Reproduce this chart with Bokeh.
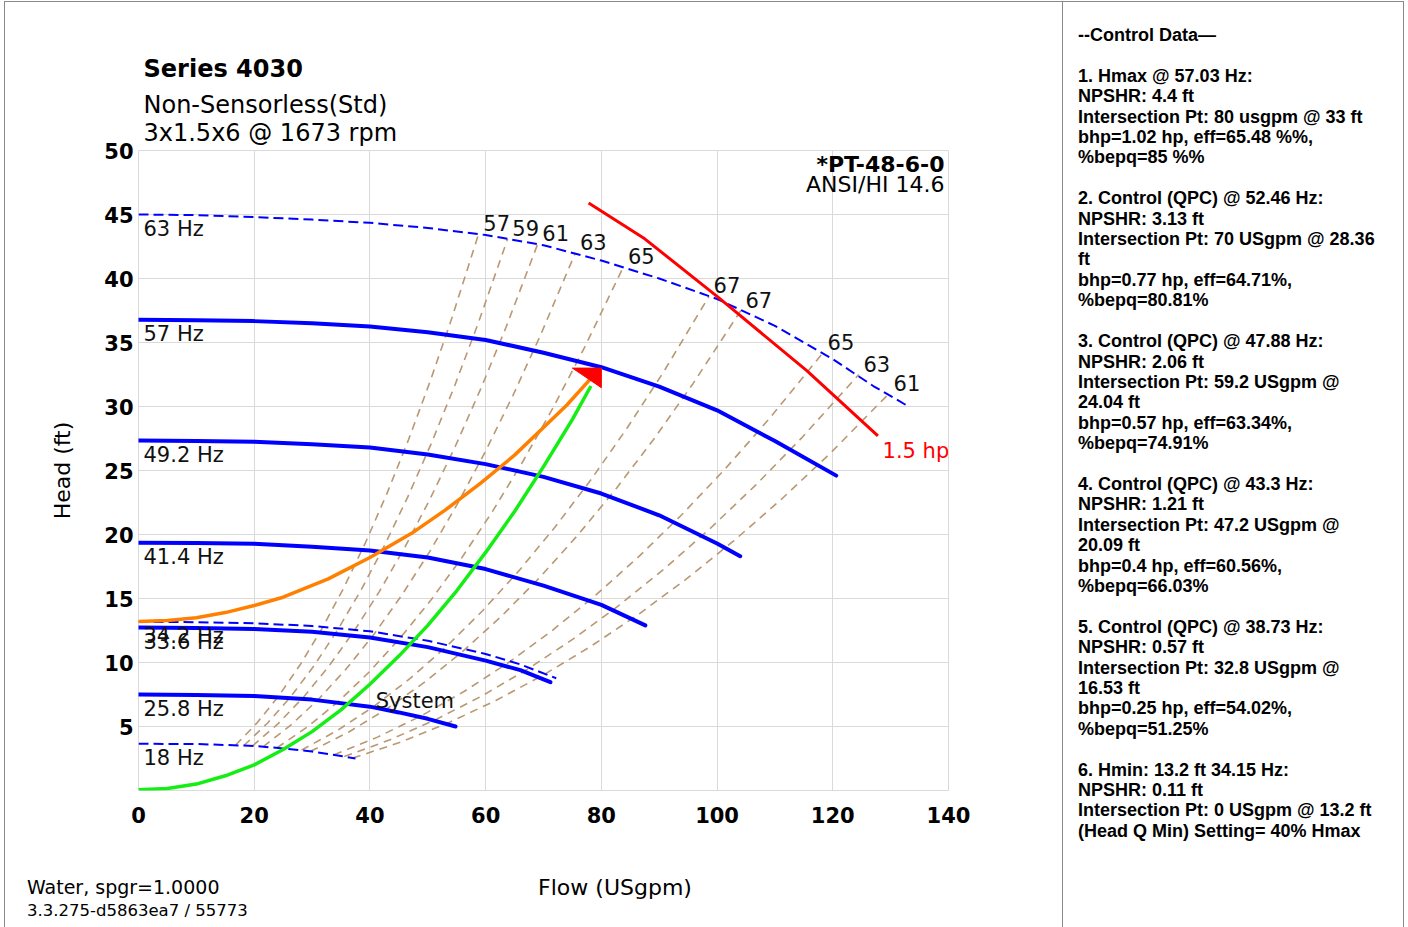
from bokeh.plotting import figure
from bokeh.models import Range1d, FixedTicker, Label, ColumnDataSource, Title, Div, Spacer
from bokeh.layouts import row, column
from bokeh.embed import file_html
from bokeh.resources import INLINE
from bokeh.core.properties import value

# ---------------- data ----------------
hz63_q = [0, 10, 20, 30, 40, 50, 60, 70, 80, 90, 100, 110, 120, 127, 133.1]
hz63_h = [45.0, 44.95, 44.8, 44.6, 44.35, 43.95, 43.4, 42.6, 41.4, 40.0, 38.4, 36.3, 33.7, 31.6, 30.0]

hz57_q = [0, 10, 20, 30, 40, 50, 60, 70, 80, 90, 100, 110, 120.6]
hz57_h = [36.77, 36.74, 36.67, 36.5, 36.25, 35.8, 35.2, 34.2, 33.07, 31.55, 29.7, 27.3, 24.6]

hz49_q = [0, 10, 20, 30, 40, 50, 60, 70, 80, 90, 100, 104]
hz49_h = [27.34, 27.31, 27.24, 27.05, 26.8, 26.25, 25.5, 24.5, 23.2, 21.5, 19.3, 18.3]

hz41_q = [0, 10, 20, 30, 40, 50, 60, 70, 80, 87.6]
hz41_h = [19.35, 19.33, 19.27, 19.05, 18.75, 18.2, 17.3, 16.0, 14.5, 12.9]

hz342_q = [0, 10, 20, 30, 40, 50, 60, 66, 72.2]
hz342_h = [13.18, 13.15, 13.07, 12.85, 12.44, 11.7, 10.67, 9.85, 8.77]

hz336_q = [0, 10, 20, 30, 40, 50, 60, 66, 71.2]
hz336_h = [12.73, 12.7, 12.62, 12.4, 11.95, 11.2, 10.15, 9.4, 8.46]

hz258_q = [0, 10, 20, 30, 40, 45, 50, 54.8]
hz258_h = [7.5, 7.47, 7.38, 7.1, 6.55, 6.1, 5.6, 5.0]

hz18_q = [0, 10, 20, 25, 30, 35, 37.5]
hz18_h = [3.65, 3.63, 3.48, 3.29, 3.04, 2.69, 2.5]

solid_curves = [(hz57_q, hz57_h), (hz49_q, hz49_h), (hz41_q, hz41_h),
                (hz336_q, hz336_h), (hz258_q, hz258_h)]
dashed_curves = [(hz63_q, hz63_h), (hz342_q, hz342_h), (hz18_q, hz18_h)]

speed_labels = ["63 Hz", "57 Hz", "49.2 Hz", "41.4 Hz", "34.2 Hz", "33.6 Hz", "25.8 Hz", "18 Hz"]
speed_shutoff = [45.0, 36.77, 27.34, 19.35, 13.18, 12.73, 7.5, 3.65]

# iso-efficiency points on the 63 Hz curve
eff_labels = ["57", "59", "61", "63", "65", "67", "67", "65", "63", "61"]
eff_q63 = [58.8, 63.8, 69.0, 75.5, 83.8, 98.6, 104.1, 118.3, 124.5, 129.7]
eff_h63 = [43.5, 43.1, 42.7, 42.0, 40.9, 38.6, 37.5, 34.2, 32.5, 31.0]
eff_speeds = [18, 22, 26, 30, 34, 38, 42, 46, 50, 54, 58, 63]   # Hz, affinity law
max_speed = 63

hp_q = [77.8, 87.5, 100.0, 115.5, 127.8]
hp_h = [45.9, 43.1, 38.6, 32.8, 27.7]

control_q = [0, 5, 10, 15, 20, 25, 32.8, 40, 47.2, 53, 59.2, 65, 70, 74, 78.0]
control_h = [13.2, 13.28, 13.5, 13.9, 14.45, 15.1, 16.53, 18.2, 20.09, 21.9, 24.04, 26.2, 28.36, 30.1, 32.1]

system_q = [0, 5, 10, 15, 20, 25, 30, 35, 40, 45, 50, 55, 60, 65, 70, 75, 78.2]
system_h = [0.05, 0.15, 0.5, 1.15, 2.0, 3.2, 4.6, 6.3, 8.3, 10.5, 12.9, 15.6, 18.6, 21.8, 25.3, 29.0, 31.6]

duty_point = (80, 33)

x_ticks = [0, 20, 40, 60, 80, 100, 120, 140]
y_ticks = [5, 10, 15, 20, 25, 30, 35, 40, 45, 50]

panel_lines = [
    "--Control Data\u2014", "",
    "1. Hmax @ 57.03 Hz:", "NPSHR: 4.4 ft", "Intersection Pt: 80 usgpm @ 33 ft",
    "bhp=1.02 hp, eff=65.48 %%,", "%bepq=85 %%", "",
    "2. Control (QPC) @ 52.46 Hz:", "NPSHR: 3.13 ft", "Intersection Pt: 70 USgpm @ 28.36", "ft",
    "bhp=0.77 hp, eff=64.71%,", "%bepq=80.81%", "",
    "3. Control (QPC) @ 47.88 Hz:", "NPSHR: 2.06 ft", "Intersection Pt: 59.2 USgpm @", "24.04 ft",
    "bhp=0.57 hp, eff=63.34%,", "%bepq=74.91%", "",
    "4. Control (QPC) @ 43.3 Hz:", "NPSHR: 1.21 ft", "Intersection Pt: 47.2 USgpm @", "20.09 ft",
    "bhp=0.4 hp, eff=60.56%,", "%bepq=66.03%", "",
    "5. Control (QPC) @ 38.73 Hz:", "NPSHR: 0.57 ft", "Intersection Pt: 32.8 USgpm @", "16.53 ft",
    "bhp=0.25 hp, eff=54.02%,", "%bepq=51.25%", "",
    "6. Hmin: 13.2 ft 34.15 Hz:", "NPSHR: 0.11 ft", "Intersection Pt: 0 USgpm @ 13.2 ft",
    "(Head Q Min) Setting= 40% Hmax",
]

title_lines = ["Series 4030", "Non-Sensorless(Std)", "3x1.5x6 @ 1673 rpm"]
curve_id = ["*PT-48-6-0", "ANSI/HI 14.6"]
footer_left = ["Water, spgr=1.0000", "3.3.275-d5863ea7 / 55773"]
x_title = "Flow (USgpm)"
y_title = "Head (ft)"

# ---------------- styles ----------------
FONT = "DejaVu Sans"
PANEL_FONT = "Liberation Sans"
BLUE = "#0000FF"
TAN = "#b99873"
GRID = "#dadada"
BORDER = "#8a8a8a"

FRAME_W, FRAME_H = 810, 640
LEFT_W = 1057
PLOT_H = 838
FOOT_H = 87
RIGHT_W = 341
TOTAL_H = PLOT_H + FOOT_H

p = figure(width=LEFT_W, height=PLOT_H, output_backend="svg", toolbar_location=None,
           x_range=Range1d(0, 140), y_range=Range1d(0, 50),
           min_border_left=133, min_border_right=LEFT_W - 133 - FRAME_W,
           min_border_top=148, min_border_bottom=PLOT_H - 148 - FRAME_H)
p.outline_line_color = GRID

for ax, ticks in ((p.xaxis[0], x_ticks), (p.yaxis[0], y_ticks)):
    ax.ticker = FixedTicker(ticks=ticks)
    ax.axis_line_color = None
    ax.major_tick_line_color = None
    ax.minor_tick_line_color = None
    ax.major_tick_out = 0
    ax.major_tick_in = 0
    ax.minor_tick_out = 0
    ax.minor_tick_in = 0
    ax.major_label_text_font = FONT
    ax.major_label_text_font_style = "bold"
    ax.major_label_text_font_size = "21px"
    ax.major_label_text_color = "black"
p.xaxis[0].major_label_standoff = 16
p.yaxis[0].major_label_standoff = 5
p.yaxis[0].axis_label = y_title
p.yaxis[0].axis_label_text_font = FONT
p.yaxis[0].axis_label_text_font_style = "normal"
p.yaxis[0].axis_label_text_font_size = "22px"
p.yaxis[0].axis_label_text_color = "black"
p.yaxis[0].axis_label_standoff = 26

p.xgrid.ticker = FixedTicker(ticks=x_ticks)
p.ygrid.ticker = FixedTicker(ticks=y_ticks)
p.grid.grid_line_color = GRID
p.grid.grid_line_width = 1


def make_title(text, bold, standoff):
    t = Title(text=text, align="left", offset=5, text_font=FONT, text_font_size="24px",
              text_font_style="bold" if bold else "normal", text_color="black")
    try:
        t.standoff = standoff
    except Exception:
        t.standoff = 0
    return t


# titles above the frame (first added sits closest to the frame)
p.add_layout(make_title(title_lines[2], False, 7), "above")
p.add_layout(make_title(title_lines[1], False, -10), "above")
p.add_layout(make_title(title_lines[0], True, 22), "above")

px_per_q = FRAME_W / 140.0
px_per_h = FRAME_H / 50.0

# iso-efficiency lines (affinity parabolas down to 18 Hz)
for q63, h63 in zip(eff_q63, eff_h63):
    qs = [q63 * s / max_speed for s in eff_speeds]
    hs = [h63 * (s / max_speed) ** 2 for s in eff_speeds]
    p.line(qs, hs, line_color=TAN, line_width=1.6, line_dash="8 6")

for qs, hs in dashed_curves:
    p.line(qs, hs, line_color=BLUE, line_width=2, line_dash="10 5")
for qs, hs in solid_curves:
    p.line(qs, hs, line_color=BLUE, line_width=4, line_cap="round")

p.line(hp_q, hp_h, line_color="#FF0000", line_width=3)
p.line(control_q, control_h, line_color="#FF8000", line_width=3.5)
p.line(system_q, system_h, line_color="#14EE14", line_width=3.5)

tq, th = duty_point
p.patch([tq - 29 / px_per_q, tq, tq], [th, th, th - 19.6 / px_per_h],
        fill_color="#FF0000", line_color="#FF0000")

src_speed = ColumnDataSource(dict(x=[0] * len(speed_labels), y=speed_shutoff, t=speed_labels))
p.text("x", "y", "t", source=src_speed, x_offset=5, y_offset=14,
       text_font=value(FONT), text_font_size="21px", text_baseline="middle",
       text_align="left", text_color="#111111")

src_eff = ColumnDataSource(dict(x=eff_q63, y=eff_h63, t=eff_labels))
p.text("x", "y", "t", source=src_eff, x_offset=18, y_offset=-11,
       text_font=value(FONT), text_font_size="21px", text_baseline="middle",
       text_align="center", text_color="#111111")

p.add_layout(Label(x=41.0, y=7.0, text="System", text_font=FONT, text_font_size="21px",
                   text_baseline="middle", text_align="left", text_color="#111111"))
p.add_layout(Label(x=hp_q[-1] + 0.8, y=hp_h[-1] - 1.15, text="1.5 hp", text_font=FONT,
                   text_font_size="21px", text_baseline="middle", text_align="left",
                   text_color="#FF0000"))
p.add_layout(Label(x=139.3, y=48.9, text=curve_id[0], text_font=FONT, text_font_size="22px",
                   text_font_style="bold", text_align="right", text_baseline="middle",
                   text_color="black"))
p.add_layout(Label(x=139.3, y=47.34, text=curve_id[1], text_font=FONT, text_font_size="22px",
                   text_align="right", text_baseline="middle", text_color="black"))

# ---------------- footer (below the plot) ----------------
foot_html = (
    f'<div style="position:relative;height:{FOOT_H}px;'
    f'font-family:\'{FONT}\';color:black;">'
    f'<div style="position:absolute;left:22px;top:35px;line-height:24px;font-size:19px;white-space:nowrap;">{footer_left[0]}</div>'
    f'<div style="position:absolute;left:410px;top:36px;width:400px;text-align:center;line-height:24px;font-size:22px;white-space:nowrap;">{x_title}</div>'
    f'<div style="position:absolute;left:22px;top:61px;line-height:20px;font-size:16.5px;white-space:nowrap;">{footer_left[1]}</div>'
    '</div>'
)
footer = Div(text=foot_html, width=LEFT_W, height=FOOT_H, margin=0)

# ---------------- right control-data panel ----------------
panel_html = (
    f'<div style="padding:23px 0 0 16px;font-family:\'{PANEL_FONT}\';font-weight:bold;'
    'font-size:18px;line-height:20.41px;color:black;white-space:nowrap;">'
    + "<br>".join(t if t else "&nbsp;" for t in panel_lines) + "</div>"
)
panel = Div(text=panel_html, width=RIGHT_W, height=TOTAL_H, margin=0,
            styles={"box-shadow": "inset 1px 0 0 " + BORDER})

main = row(column(p, footer, spacing=0), panel, spacing=0,
           styles={"outline": "1px solid " + BORDER})
layout = column(Spacer(height=2), row(Spacer(width=5), main, spacing=0), spacing=0)
open("out.html", "w").write(file_html(layout, INLINE))
